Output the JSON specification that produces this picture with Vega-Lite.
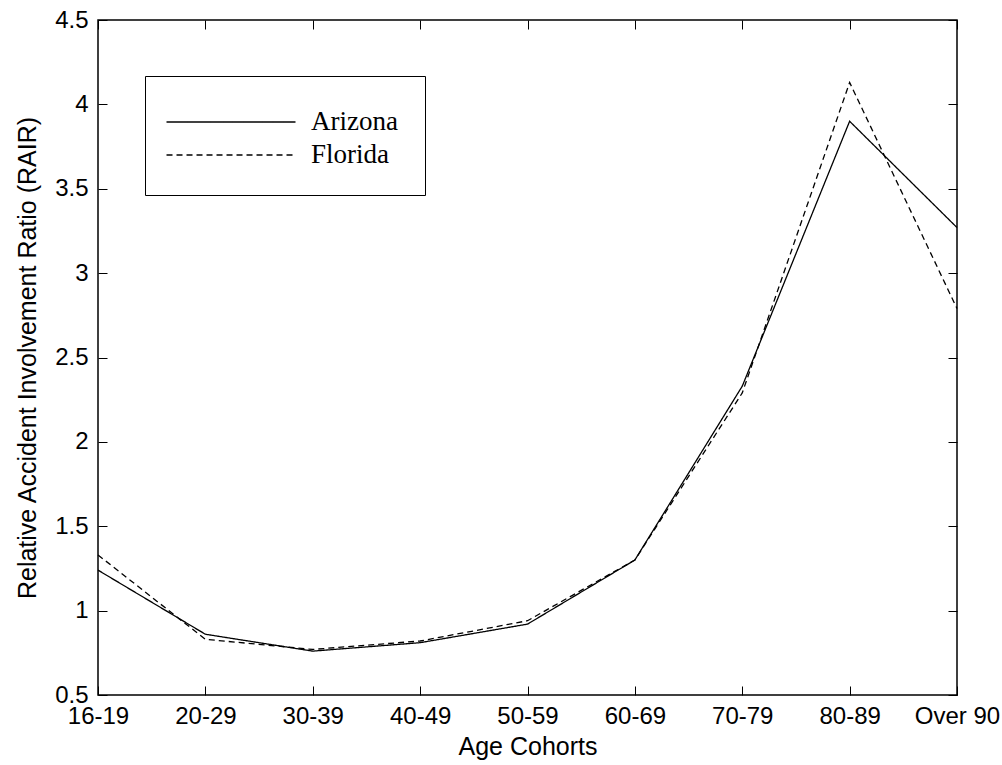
{
  "$schema": "https://vega.github.io/schema/vega-lite/v6.json",
  "width": 859,
  "height": 675,
  "autosize": "none",
  "padding": {"left": 98, "top": 20, "right": 45, "bottom": 70},
  "background": "white",
  "view": {"stroke": "black", "strokeWidth": 1.5},
  "config": {
    "font": "Liberation Sans",
    "axis": {"domain": false, "grid": false, "labelColor": "black", "titleColor": "black", "tickColor": "black", "labelFont": "Liberation Sans", "titleFont": "Liberation Sans", "titleFontWeight": "normal"}
  },
  "data": {"values": [
    {"age": "16-19", "state": "Arizona", "rair": 1.24},
    {"age": "20-29", "state": "Arizona", "rair": 0.86},
    {"age": "30-39", "state": "Arizona", "rair": 0.76},
    {"age": "40-49", "state": "Arizona", "rair": 0.81},
    {"age": "50-59", "state": "Arizona", "rair": 0.92},
    {"age": "60-69", "state": "Arizona", "rair": 1.30},
    {"age": "70-79", "state": "Arizona", "rair": 2.33},
    {"age": "80-89", "state": "Arizona", "rair": 3.90},
    {"age": "Over 90", "state": "Arizona", "rair": 3.27},
    {"age": "16-19", "state": "Florida", "rair": 1.33},
    {"age": "20-29", "state": "Florida", "rair": 0.83},
    {"age": "30-39", "state": "Florida", "rair": 0.77},
    {"age": "40-49", "state": "Florida", "rair": 0.82},
    {"age": "50-59", "state": "Florida", "rair": 0.94},
    {"age": "60-69", "state": "Florida", "rair": 1.30},
    {"age": "70-79", "state": "Florida", "rair": 2.29},
    {"age": "80-89", "state": "Florida", "rair": 4.13},
    {"age": "Over 90", "state": "Florida", "rair": 2.79}
  ]},
  "layer": [
    {
      "mark": {"type": "line", "color": "black", "strokeWidth": 1.3},
      "encoding": {
        "x": {"field": "age", "type": "ordinal", "sort": null,
          "scale": {"type": "point", "padding": 0},
          "axis": {"orient": "bottom", "title": "Age Cohorts", "labelAngle": 0, "labelFontSize": 24, "titleFontSize": 25, "tickSize": -9, "labelPadding": 18, "titlePadding": 6}},
        "y": {"field": "rair", "type": "quantitative",
          "scale": {"domain": [0.5, 4.5], "nice": false, "zero": false},
          "axis": {"orient": "left", "title": "Relative Accident Involvement Ratio (RAIR)", "values": [0.5, 1, 1.5, 2, 2.5, 3, 3.5, 4, 4.5], "format": ".1~f", "labelFontSize": 24, "titleFontSize": 25, "tickSize": -9, "labelPadding": 19, "titlePadding": 14}},
        "strokeDash": {"field": "state", "type": "nominal",
          "scale": {"domain": ["Arizona", "Florida"], "range": [[1, 0], [6, 4]]},
          "legend": {"orient": "none", "legendX": 47, "legendY": 56, "title": null,
            "strokeColor": "black", "fillColor": "white", "padding": 27,
            "symbolType": "M-3.583,0H3.583", "symbolSize": 1296, "symbolStrokeColor": "black", "symbolStrokeWidth": 1.3, "symbolOffset": 40,
            "labelFont": "Liberation Serif", "labelFontSize": 27, "labelColor": "black", "labelOffset": 61, "rowPadding": 1}}
      }
    },
    {
      "mark": {"type": "line", "color": "black", "strokeOpacity": 0},
      "encoding": {
        "x": {"field": "age", "type": "ordinal", "sort": null,
          "axis": {"orient": "top", "title": null, "labels": false, "tickSize": -9}},
        "y": {"field": "rair", "type": "quantitative",
          "axis": {"orient": "right", "title": null, "labels": false, "values": [0.5, 1, 1.5, 2, 2.5, 3, 3.5, 4, 4.5], "tickSize": -9}},
        "detail": {"field": "state"}
      }
    }
  ],
  "resolve": {"axis": {"x": "independent", "y": "independent"}}
}
